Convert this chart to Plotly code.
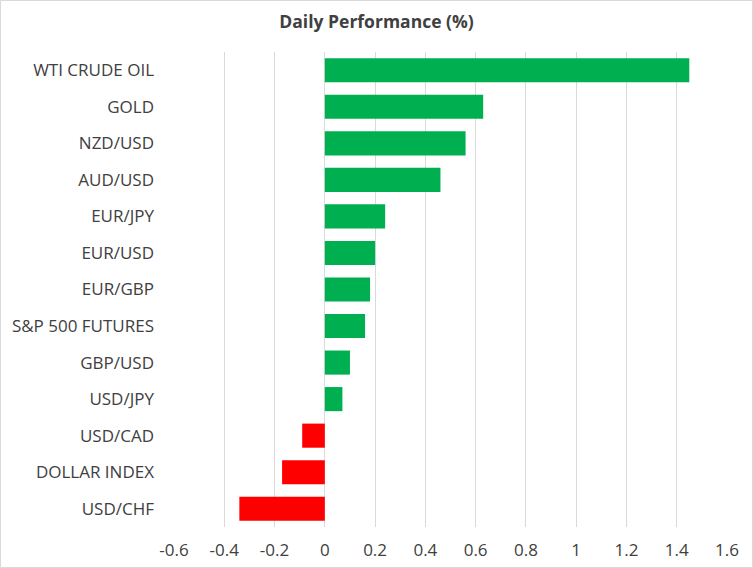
import plotly.graph_objects as go

categories = ["WTI CRUDE OIL", "GOLD", "NZD/USD", "AUD/USD", "EUR/JPY", "EUR/USD",
              "EUR/GBP", "S&P 500 FUTURES", "GBP/USD", "USD/JPY", "USD/CAD",
              "DOLLAR INDEX", "USD/CHF"]
values = [1.45, 0.63, 0.56, 0.46, 0.24, 0.20, 0.18, 0.16, 0.10, 0.07, -0.09, -0.17, -0.34]
tick_vals = [-0.6, -0.4, -0.2, 0, 0.2, 0.4, 0.6, 0.8, 1.0, 1.2, 1.4, 1.6]
tick_text = ["-0.6", "-0.4", "-0.2", "0", "0.2", "0.4", "0.6", "0.8", "1", "1.2", "1.4", "1.6"]

colors = ["#00B050" if v >= 0 else "#FF0000" for v in values]

W, H = 753, 568
ml, mr, mt, mb = 174, 26, 52, 41
pw, ph = W - ml - mr, H - mt - mb

fig = go.Figure()
fig.add_trace(go.Bar(
    x=values, y=categories, orientation="h",
    marker=dict(color=colors, line=dict(width=0)),
    hoverinfo="x+y",
))

fig.update_layout(
    width=W, height=H,
    margin=dict(l=ml, r=mr, t=mt, b=mb, autoexpand=False),
    paper_bgcolor="white", plot_bgcolor="white",
    font=dict(family="Open Sans", size=17, color="#404040"),
    title=dict(text="<b>Daily Performance (%)</b>", x=0.5, xref="container", xanchor="center",
               y=1 - 22 / H, yref="container", yanchor="middle",
               font=dict(size=17.5, color="#404040")),
    bargap=0.34,
    showlegend=False,
    xaxis=dict(range=[-0.6, 1.6], tickvals=tick_vals, ticktext=tick_text,
               showgrid=True, gridcolor="#D9D9D9", gridwidth=1, automargin=False,
               zeroline=False, showline=False, ticks="", ticklabelstandoff=11,
               tickfont=dict(size=17, color="#404040")),
    yaxis=dict(autorange="reversed", showgrid=False, zeroline=False, showline=False,
               automargin=False,
               ticks="", ticklabelstandoff=19, tickfont=dict(size=17, color="#404040")),
    shapes=[dict(type="rect", xref="paper", yref="paper",
                 x0=-(ml - 0.5) / pw, x1=(W - ml - 0.5) / pw,
                 y0=-(mb - 0.5) / ph, y1=(H - mb - 0.5) / ph,
                 line=dict(color="#D9D9D9", width=1), layer="below")],
)

fig.write_html("out.html", config={"displayModeBar": False},
               post_script="document.body.style.margin='0';")
